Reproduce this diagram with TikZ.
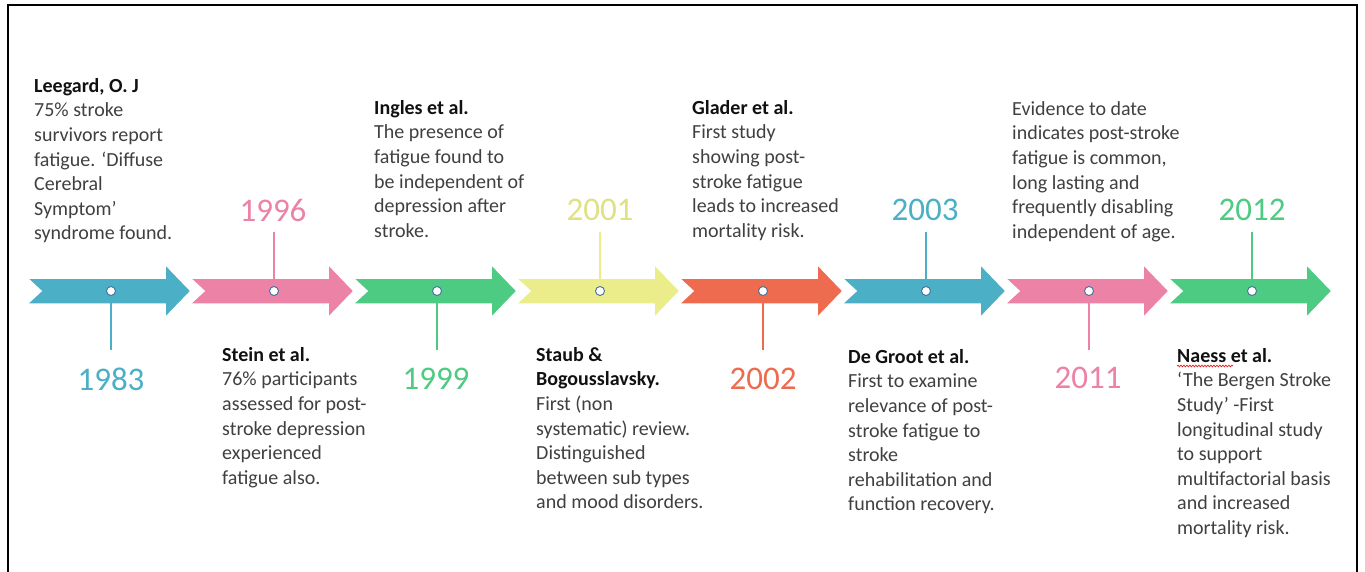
\documentclass[tikz,border=0pt]{standalone}
\usepackage{fontspec}
\setmainfont{Carlito}
\usetikzlibrary{decorations.pathmorphing}

\definecolor{cblue}{HTML}{4BAFC6}
\definecolor{cpink}{HTML}{EC82A6}
\definecolor{cgreen}{HTML}{4ECB82}
\definecolor{cyellow}{HTML}{EBED8B}
\definecolor{corange}{HTML}{EE6B50}
\definecolor{dotline}{HTML}{41719C}
\definecolor{bodytext}{HTML}{404040}
\definecolor{headtext}{HTML}{111111}
\definecolor{spellred}{HTML}{E02424}

\begin{document}
\begin{tikzpicture}[x=1pt,y=-1pt,
  pics/chev/.style={code={
    \fill[#1,draw=white,line width=1.5pt]
      (0,-13) -- (138,-13) -- (138,-27) -- (164,0) -- (138,27) -- (138,13)
      -- (0,13) -- (14,0) -- cycle;}},
  dot/.style={circle,fill=white,draw=dotline,line width=0.9pt,
    minimum size=9pt,inner sep=0pt},
  stemline/.style={draw=#1,line width=2.5pt},
  year/.style={font=\fontsize{33}{40}\selectfont,inner sep=0pt},
  txt/.style={anchor=north west,inner sep=0pt,align=left,
    font=\fontsize{20}{24.6}\selectfont,text=bodytext},
  squig/.style={draw=spellred,line width=0.7pt,
    decorate,decoration={snake,segment length=3pt,amplitude=0.9pt}}
]
\useasboundingbox (0,0) rectangle (1365,572);
\fill[white] (0,0) rectangle (1365,572);

% outer frame (open at the bottom)
\draw[line width=2pt] (8,572) -- (8,5) -- (1357,5) -- (1357,572);

% chevron timeline
\foreach \i/\c in {0/cblue,1/cpink,2/cgreen,3/cyellow,4/corange,5/cblue,6/cpink,7/cgreen}
  \pic at ({27+163*\i},291) {chev=\c};

% markers on the timeline
\node[dot] (c1) at (111,291) {};
\node[dot] (c2) at (274,291) {};
\node[dot] (c3) at (437,291) {};
\node[dot] (c4) at (600,291) {};
\node[dot] (c5) at (763,291) {};
\node[dot] (c6) at (926,291) {};
\node[dot] (c7) at (1089,291) {};
\node[dot] (c8) at (1252,291) {};

% stem ends
\coordinate (e1) at (111,350);
\coordinate (e2) at (274,232);
\coordinate (e3) at (437,350);
\coordinate (e4) at (600,232);
\coordinate (e5) at (763,350);
\coordinate (e6) at (926,232);
\coordinate (e7) at (1089,350);
\coordinate (e8) at (1252,232);

\draw[stemline=cblue]   (c1) -- (e1);
\draw[stemline=cpink]   (c2) -- (e2);
\draw[stemline=cgreen]  (c3) -- (e3);
\draw[stemline=cyellow] (c4) -- (e4);
\draw[stemline=corange] (c5) -- (e5);
\draw[stemline=cblue]   (c6) -- (e6);
\draw[stemline=cpink]   (c7) -- (e7);
\draw[stemline=cgreen]  (c8) -- (e8);

% years
\node[year,text=cblue]   (y1) at (111,379) {1983};
\node[year,text=cpink]   (y2) at (273,210) {1996};
\node[year,text=cgreen]  (y3) at (436,379) {1999};
\node[year,text=cyellow!95!black] (y4) at (600,210) {2001};
\node[year,text=corange] (y5) at (763,379) {2002};
\node[year,text=cblue]   (y6) at (925,210) {2003};
\node[year,text=cpink]   (y7) at (1088,378) {2011};
\node[year,text=cgreen]  (y8) at (1252,210) {2012};

% descriptions above the line
\node[txt] (t1) at (34,76) {\rule{0pt}{16pt}\textcolor{headtext}{\textbf{Leegard, O. J}}\\
  75\% stroke\\ survivors report\\ fatigue. ‘Diffuse\\ Cerebral\\ Symptom’\\ syndrome found.};
\node[txt] (t3) at (374,98) {\rule{0pt}{16pt}\textcolor{headtext}{\textbf{Ingles et al.}}\\
  The presence of\\ fatigue found to\\ be independent of\\ depression after\\ stroke.};
\node[txt] (t5) at (692,98) {\rule{0pt}{16pt}\textcolor{headtext}{\textbf{Glader et al.}}\\
  First study\\ showing post-\\ stroke fatigue\\ leads to increased\\ mortality risk.};
\node[txt] (t7) at (1012,99) {\rule{0pt}{16pt}Evidence to date\\ indicates post-stroke\\
  fatigue is common,\\ long lasting and\\ frequently disabling\\ independent of age.};

% descriptions below the line
\node[txt] (t2) at (222,345) {\rule{0pt}{16pt}\textcolor{headtext}{\textbf{Stein et al.}}\\
  76\% participants\\ assessed for post-\\ stroke depression\\ experienced\\ fatigue also.};
\node[txt] (t4) at (536,345) {\rule{0pt}{16pt}\textcolor{headtext}{\textbf{Staub \&}}\\
  \textcolor{headtext}{\textbf{Bogousslavsky.}}\\ First (non\\ systematic) review.\\
  Distinguished\\ between sub types\\ and mood disorders.};
\node[txt] (t6) at (848,347) {\rule{0pt}{16pt}\textcolor{headtext}{\textbf{De Groot et al.}}\\
  First to examine\\ relevance of post-\\ stroke fatigue to\\ stroke\\
  rehabilitation and\\ function recovery.};
\node[txt] (t8) at (1177,346) {\rule{0pt}{16pt}\textcolor{headtext}{\textbf{Naess et al.}}\\
  ‘The Bergen Stroke\\ Study’ -First\\ longitudinal study\\ to support\\
  multifactorial basis\\ and increased\\ mortality risk.};

% spell-check underline under the author name
\draw[squig] ([shift={(0,20)}]t8.north west) -- ++(56,0);
\end{tikzpicture}
\end{document}
